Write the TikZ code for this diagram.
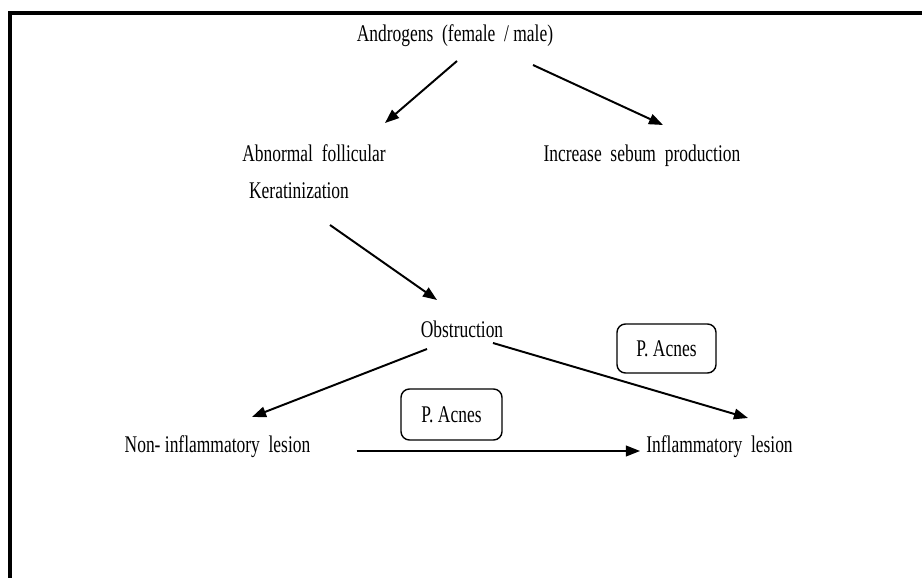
\documentclass[tikz,border=0pt]{standalone}
\usepackage{fontspec}
\setmainfont{Liberation Serif}[FakeStretch=0.73]
\usetikzlibrary{arrows.meta, calc}

\tikzset{
  txt/.style={inner sep=0pt, anchor=base, font=\fontsize{17}{20}\selectfont},
  bac/.style={draw, line width=1pt, rounded corners=6pt, minimum width=99*0.025cm,
    minimum height=49*0.025cm, inner sep=0pt, font=\fontsize{17}{20}\selectfont},
  arr/.style={line width=1.4pt, -{Triangle[length=10pt, width=7.5pt]}}
}

\begin{document}
\begin{tikzpicture}[x=0.025cm, y=-0.025cm]
  \useasboundingbox (0,0) rectangle (922,578);
  % frame (only top and left are seen)
  \draw[line width=2.4pt] (10,580) -- (10,13) -- (924,13);

  % text nodes
  \node[txt] (andr) at (455,42) {Androgens \ (female \ / male)};
  \node[txt] (abn) at (314,162) {Abnormal \ follicular};
  \node[txt] (kera) at (299,198) {Keratinization};
  \node[txt] (sebum) at (642,161) {Increase \ sebum \ production};
  \node[txt] (obst) at (462,337) {Obstruction};
  \node[txt] (noninf) at (217.5,452) {Non- inflammatory \ lesion};
  \node[txt] (inf) at (719.5,452) {Inflammatory \ lesion};

  % boxes
  \node[bac] (pac1) at (666.5,348.5) {P. Acnes};
  \node[bac, minimum width=101*0.025cm, minimum height=51*0.025cm] (pac2) at (451.5,414.5) {P. Acnes};

  % arrows
  \draw[arr] ($(andr.base)+(2,19)$) -- ($(abn.base)+(71,-39)$);
  \draw[arr] ($(andr.base)+(78,23)$) -- ($(sebum.base)+(21,-36)$);
  \draw[arr] ($(kera.base)+(31,27)$) -- ($(obst.base)+(-25,-37)$);
  \draw[arr] ($(obst.base)+(-35,12)$) -- ($(noninf.base)+(34.5,-35)$);
  \draw[arr] ($(obst.base)+(31,6)$) -- ($(inf.base)+(28.5,-34)$);
  \draw[arr] ($(noninf.base east)+(46,-1)$) -- ($(inf.base west)+(-6,-1)$);
\end{tikzpicture}
\end{document}
